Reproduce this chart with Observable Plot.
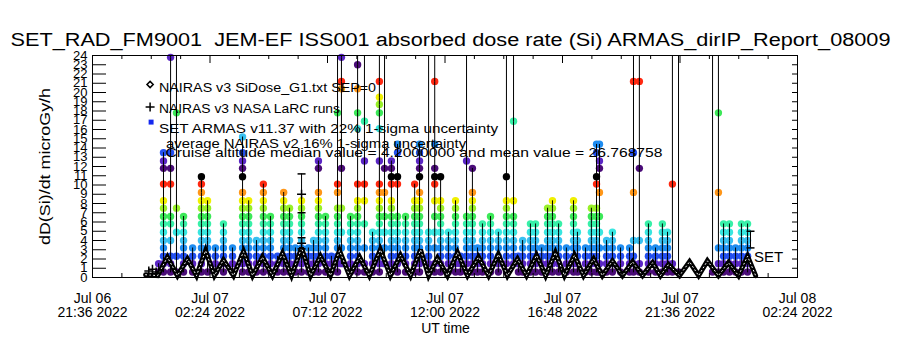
<!DOCTYPE html>
<html><head><meta charset="utf-8">
<script src="https://cdn.jsdelivr.net/npm/d3@7"></script>
<script src="https://cdn.jsdelivr.net/npm/@observablehq/plot@0.6"></script>
<style>html,body{margin:0;padding:0;background:#fff}</style>
</head><body><div id="chart"></div>
<script>
// ---------- DATA (hours UT since 2022-07-07 00:00) ----------
const titleText = "SET_RAD_FM9001  JEM-EF ISS001 absorbed dose rate (Si) ARMAS_dirIP_Report_08009";
const yLabelText = "dD(Si)/dt microGy/h";
const xLabelText = "UT time";
const tickHours = [-2.4, 2.4, 7.2, 12.0, 16.8, 21.6, 26.4];
const tickLabels = ["Jul 06\n21:36 2022","Jul 07\n02:24 2022","Jul 07\n07:12 2022","Jul 07\n12:00 2022","Jul 07\n16:48 2022","Jul 07\n21:36 2022","Jul 08\n02:24 2022"];
const yTickValues = [0,1,2,3,4,5,6,7,8,9,10,11,12,13,14,15,16,17,18,19,20,21,22,23,24];
const legendLines = [
  "NAIRAS v3 SiDose_G1.txt SEP=0",
  "NAIRAS v3 NASA LaRC runs",
  "SET ARMAS v11.37 with 22% 1-sigma uncertainty",
  "average NAIRAS v2 16% 1-sigma uncertainty",
  "Cruise altitude median value = 4.2000000 and mean value = 26.768758"
];
// quantized SET dose-rate levels and their colour cycle
const setLevels = [0.6,1.5,2.3,3.2,4.0,4.9,5.8,6.6,7.5,8.3,9.2,10.1,10.9,11.8,12.6,13.5,14.4,15.2,16.1,16.9,17.8,18.7,19.5,20.4,21.2,22.1,23.0,23.8];
const levelPalette = ["#4a0c78","#5a26c4","#2450f0","#1e8cf0","#38c0f0","#38e6e0","#38f0a8","#3ce858","#98f028","#f0f000","#ff9618","#ff2810","#000000"];

// SET ARMAS samples: column times and the values sampled in each column (60 = off scale)
const setHours = [0.30,0.50,0.79,1.03,1.32,1.69,2.05,2.30,2.62,2.95,3.32,3.73,3.98,4.30,4.58,4.87,5.16,5.41,5.65,5.89,
  6.14,6.42,6.63,6.83,7.12,7.36,7.61,7.77,8.14,8.43,8.71,9.04,9.32,9.53,9.81,10.06,10.39,10.76,10.96,11.33,
  11.58,11.82,12.14,12.43,12.63,12.88,13.12,13.33,13.53,13.86,14.18,14.51,14.80,15.00,15.17,15.49,15.70,15.95,16.19,16.39,
  16.64,16.96,17.25,17.41,17.74,17.98,18.19,18.31,18.60,18.84,19.17,19.54,19.70,19.94,20.31,20.60,20.88,21.09,21.29,21.54,
  22.93,23.17,23.38,23.62,23.87,24.11,24.36];
const setValues = [
  [0.6,1.5],
  [0.6,1.5,2.3,3.2,4.0,4.9,5.8,6.6,7.5,8.3,10.1,11.8,12.6,13.5],
  [0.6,1.5,2.3,4.0,5.8,6.6,10.1,11.8,13.5,23.8,60],
  [60,17.8,7.5,4.9,2.3,0.6],
  [0.6,1.5,2.3,3.2,4.0,4.9,5.8,6.6],
  [0.6,1.5,2.3,3.2],
  [0.6,1.5,2.3,3.2,4.0,4.9,5.8,6.6,7.5,8.3,9.2,10.1,10.9],
  [0.6,2.3,3.2,4.0,4.9,5.8,6.6,7.5,8.3],
  [0.6,1.5,2.3,3.2],
  [0.6,1.5,2.3,3.2,4.0,4.9,5.8],
  [0.6,1.5,2.3,3.2],
  [0.6,1.5,2.3,3.2,4.0,4.9,5.8,6.6,7.5,8.3,9.2,10.9,11.8,12.6,13.5,15.2],
  [0.6,1.5,2.3,3.2,4.0,4.9,5.8,6.6,7.5,8.3],
  [0.6,1.5,2.3,3.2,4.0],
  [0.6,1.5,2.3,3.2,4.0,4.9,5.8,6.6,7.5,8.3,9.2,10.1],
  [0.6,1.5,2.3,3.2,4.0,4.9,5.8,6.6],
  [0.6,1.5,2.3],
  [0.6,1.5,2.3,3.2,4.0,4.9,5.8,6.6,7.5,8.3,9.2],
  [0.6,1.5,2.3,3.2,4.0,4.9,5.8,6.6,7.5],
  [0.6,1.5,2.3,3.2],
  [0.6,1.5,2.3,3.2,4.0,4.9,5.8,6.6,7.5,8.3],
  [0.6,1.5,2.3,3.2],
  [0.6,1.5,2.3,3.2,4.0],
  [0.6,1.5,2.3,3.2,4.0,4.9,5.8,6.6,7.5,8.3,9.2,11.8,12.6],
  [0.6,1.5,2.3,3.2,4.0,4.9,5.8,6.6],
  [0.6,1.5,2.3],
  [0.6,1.5,2.3,3.2,4.0,4.9,5.8,6.6,7.5,9.2,10.1,17.8,60],
  [60,23.8,21.2,20.4,11.8,7.5,4.9,3.2,1.5],
  [0.6,1.5,2.3,3.2,4.0,4.9,5.8,6.6],
  [0.6,1.5,2.3,3.2,4.0,4.9,5.8,6.6,7.5,8.3,10.1,16.1,17.8,20.4,23.0,60],
  [60,16.9,12.6,10.1,8.3,5.8,3.2,1.5,0.6],
  [0.6,1.5,2.3,3.2,4.0,4.9],
  [0.6,1.5,2.3,3.2,4.0,4.9,5.8,6.6,7.5,8.3,9.2,10.1,12.6,16.1,17.8,18.7,19.5,21.2,60],
  [60,11.8,9.2,6.6,4.9,3.2,1.5],
  [0.6,1.5,2.3,3.2,4.0,4.9,5.8,6.6,7.5,8.3,10.1,10.9,11.8,12.6],
  [0.6,1.5,2.3,3.2,4.0,4.9,5.8,6.6,10.1,10.9,13.5,14.4],
  [0.6,1.5,2.3,3.2,4.0,4.9,5.8,6.6],
  [0.6,1.5,2.3,3.2,4.0,4.9,5.8,6.6,7.5,8.3,10.1],
  [0.6,1.5,2.3,3.2,4.0,4.9,5.8,6.6,7.5,8.3,9.2,10.9,11.8,12.6,13.5,14.4],
  [0.6,1.5,2.3,3.2,4.0,4.9,60],
  [60,21.2,14.4,11.8,10.9,10.1,8.3,6.6,4.9,3.2,1.5,0.6],
  [0.6,1.5,2.3,3.2,4.0,4.9,5.8,6.6,7.5,8.3,10.9],
  [0.6,1.5,2.3,3.2,4.0,4.9],
  [0.6,1.5,2.3,3.2,4.0,4.9,5.8,6.6,7.5,8.3],
  [0.6,1.5,2.3],
  [0.6,1.5,2.3,3.2,4.0,4.9,5.8,6.6,12.6,60],
  [0.6,1.5,2.3,3.2,4.0,4.9,5.8,6.6,7.5,8.3,9.2,11.8],
  [0.6,1.5,2.3,3.2],
  [0.6,1.5,2.3,3.2,4.0,4.9,5.8],
  [0.6,1.5,2.3,3.2,4.0,4.9,5.8,6.6],
  [0.6,1.5,2.3,3.2,4.0,4.9],
  [0.6,1.5,2.3,3.2,4.0,4.9,5.8,6.6,7.5,8.3,10.9,60],
  [60,16.9,8.3,6.6,5.8,4.9,4.0,3.2,2.3,1.5],
  [0.6,1.5,2.3],
  [0.6,1.5,2.3,3.2,4.0],
  [0.6,1.5,2.3,3.2,4.0,4.9,5.8],
  [0.6,1.5,2.3,3.2,4.0,4.9,5.8],
  [0.6,1.5,2.3,3.2],
  [0.6,1.5,2.3,3.2,4.0,4.9,5.8,6.6,7.5],
  [0.6,1.5,2.3,3.2,4.0,4.9,5.8,6.6,7.5,8.3],
  [0.6,1.5,2.3,3.2,4.0,4.9,5.8],
  [0.6,1.5,2.3,3.2],
  [0.6,1.5,2.3,3.2,4.0,4.9,5.8,6.6,7.5,8.3],
  [0.6,1.5,2.3,3.2,4.0,4.9],
  [0.6,1.5,2.3,3.2],
  [0.6,1.5,2.3,3.2,4.0,4.9,5.8,6.6,7.5],
  [0.6,1.5,2.3,3.2,4.0,4.9,5.8,6.6,7.5,10.1,10.9,13.5,14.4],
  [14.4,12.6,11.8,9.2,6.6,4.9,3.2,1.5,0.6],
  [0.6,1.5,2.3,3.2,4.0],
  [0.6,1.5,2.3,3.2,4.0,4.9],
  [0.6,1.5,2.3,3.2],
  [0.6,1.5,2.3,3.2],
  [0.6,1.5,2.3,4.0,9.2,13.5,21.2,60],
  [60,21.2,11.8,4.0,1.5,0.6],
  [0.6,1.5,2.3,3.2,4.0,4.9,5.8],
  [0.6,1.5,2.3,3.2],
  [0.6,1.5,2.3,3.2,4.0,4.9,5.8],
  [0.6,1.5,2.3,3.2,4.0,4.9],
  [0.6,1.5,10.1,60],
  [60,0.6],
  [0.6,60],
  [60,17.8,9.2,3.2,1.5,0.6],
  [0.6,1.5,2.3,3.2,4.0,4.9,5.8],
  [0.6,1.5,2.3,3.2,4.0,4.9,5.8],
  [0.6,1.5,2.3,3.2],
  [0.6,1.5,2.3,3.2,4.0,4.9,5.8],
  [0.6,1.5,2.3,3.2,4.0,4.9,5.8]
];

// NAIRAS v3 SiDose (orbital humps)
const nairasHours = [-0.23,0.26,0.66,1.07,1.48,1.85,2.22,2.58,2.95,3.36,3.77,4.14,4.54,4.95,5.36,5.73,6.14,6.51,6.91,7.32,
  7.69,8.10,8.51,8.91,9.36,9.77,10.18,10.59,11.00,11.33,11.69,12.10,12.51,12.92,13.37,13.78,14.18,14.55,14.96,15.33,
  15.74,16.11,16.51,16.88,17.29,17.66,18.07,18.43,18.84,19.25,19.66,20.07,20.48,20.80,21.13,21.58,21.99,22.36,22.72,23.17,
  23.58,23.99,24.36,24.69];
const nairasValues = [0.3,0.2,2.2,0.2,2.0,0.2,2.9,0.2,1.9,0.2,2.8,0.2,2.2,0.2,2.6,0.2,3.2,0.2,2.3,0.2,
  2.9,0.2,2.2,0.2,3.0,0.2,2.4,0.2,3.0,0.2,2.1,0.2,2.7,0.2,2.2,0.2,2.5,0.2,2.0,0.2,
  2.4,0.2,2.7,0.2,2.4,0.2,2.0,0.2,1.8,0.2,1.7,0.2,1.6,0.2,1.4,0.2,1.7,0.2,1.8,0.2,
  1.6,0.2,2.3,0.2];

// NAIRAS v3 NASA LaRC runs
const larcHours = [-0.10, 0.05, 0.20, 6.14, 6.14];
const larcValues = [0.7, 0.9, 0.6, 9.0, 3.7];

// uncertainty bars
const errHours = [6.14, 6.14, 24.48];
const errLow = [7.0, 3.1, 3.2];
const errHigh = [11.2, 4.3, 5.0];
const setLabelHours = [24.62];
const setLabelValues = [2.2];

// ---------- BUILD ----------
const W = 900, H = 350, mL = 92, mR = 103, mT = 55, mB = 73;
const fw = W - mL - mR, fh = H - mT - mB;
const base = Date.UTC(2022, 6, 7);
const T = h => new Date(base + h * 3600000);

const setPts = [];
setHours.forEach((h, i) => setValues[i].forEach(v => setPts.push({t: T(h), v, col: i})));
const nairas = nairasHours.map((h, i) => ({t: T(h), v: nairasValues[i]}));
const larc = larcHours.map((h, i) => ({t: T(h), v: larcValues[i]}));
const errs = errHours.map((h, i) => ({t: T(h), lo: errLow[i], hi: errHigh[i]}));
const caps = errs.flatMap(d => [{t: d.t, v: d.lo}, {t: d.t, v: d.hi}]);
const setLab = setLabelHours.map((h, i) => ({t: T(h), v: setLabelValues[i], text: "SET"}));

const thresholds = d3.pairs(setLevels).map(([a, b]) => (a + b) / 2);
const colorRange = setLevels.map((_, k) => levelPalette[k % levelPalette.length]);

const majorDates = tickHours.map(T);
const minorDates = d3.pairs(tickHours).flatMap(([a, b]) => [1, 2, 3].map(j => T(a + (b - a) * j / 4)));
const labelFor = new Map(majorDates.map((d, i) => [+d, tickLabels[i]]));

const hbar = {draw(ctx, size) { const w = Math.sqrt(size / Math.PI); ctx.moveTo(-w, 0); ctx.lineTo(w, 0); }};

const FONT = "'Liberation Sans', Arial, sans-serif";

const chart = Plot.plot({
  width: W, height: H,
  marginLeft: mL, marginRight: mR, marginTop: mT, marginBottom: mB,
  style: {fontFamily: FONT, fontSize: "13px", background: "white", color: "black"},
  x: {type: "utc", domain: [majorDates[0], majorDates[majorDates.length - 1]]},
  y: {domain: [0, 24]},
  color: {type: "threshold", domain: thresholds, range: colorRange},
  marks: [
    Plot.dot(setPts, {filter: d => d.v <= 24, x: "t", y: "v", fill: "v", r: 3.7}),
    Plot.line(setPts, {x: "t", y: "v", z: "col", stroke: "black", strokeWidth: 1, clip: true}),
    Plot.line(nairas, {x: "t", y: "v", stroke: "black", strokeWidth: 5, strokeLinejoin: "miter", strokeMiterlimit: 3}),
    Plot.line(nairas, {x: "t", y: "v", stroke: "white", strokeWidth: 1, strokeDasharray: "1,3"}),
    Plot.ruleX(errs, {x: "t", y1: "lo", y2: "hi", stroke: "black"}),
    Plot.dot(caps, {x: "t", y: "v", symbol: hbar, r: 4, stroke: "black", fill: "none"}),
    Plot.dot(larc, {x: "t", y: "v", symbol: "plus", r: 3, stroke: "black", strokeWidth: 1.5}),
    Plot.text(setLab, {x: "t", y: "v", text: "text", textAnchor: "start", fontSize: 15}),
    Plot.frame({stroke: "black"}),
    // IDL-style inward ticks
    Plot.ruleY(yTickValues, {insetRight: fw - 14, stroke: "black"}),
    Plot.ruleY(yTickValues, {insetLeft: fw - 5, stroke: "black"}),
    Plot.ruleX(majorDates, {insetTop: fh - 8, stroke: "black"}),
    Plot.ruleX(minorDates, {insetTop: fh - 4, stroke: "black"}),
    Plot.ruleX(majorDates, {insetBottom: fh - 8, stroke: "black"}),
    Plot.ruleX(minorDates, {insetBottom: fh - 4, stroke: "black"}),
    Plot.axisY({ticks: yTickValues, tickSize: 0, tickPadding: 5, fontSize: 13, label: null, tickFormat: d => String(d)}),
    Plot.axisX({ticks: majorDates, tickSize: 0, tickPadding: 16, fontSize: 14, lineHeight: 1.0, label: null, tickFormat: d => labelFor.get(+d)}),
    // legend
    Plot.dot([0], {frameAnchor: "top-left", dx: 57.6, dy: 29, symbol: "diamond2", r: 2.8, stroke: "black", strokeWidth: 1.5}),
    Plot.dot([0], {frameAnchor: "top-left", dx: 57.6, dy: 51.5, symbol: "plus", r: 3, stroke: "black", strokeWidth: 1.5}),
    Plot.dot([0], {frameAnchor: "top-left", dx: 58.6, dy: 66.6, symbol: "square", r: 2.8, fill: "#1428f0"}),
    Plot.text([legendLines[0]], {text: d => d, frameAnchor: "top-left", dx: 66.5, dy: 26.7, textAnchor: "start", fontSize: 13.5}),
    Plot.text([legendLines[1]], {text: d => d, frameAnchor: "top-left", dx: 66.5, dy: 47.7, textAnchor: "start", fontSize: 13.5}),
    Plot.text([legendLines[2]], {text: d => d, frameAnchor: "top-left", dx: 66.5, dy: 67.7, textAnchor: "start", fontSize: 13.5}),
    Plot.text([legendLines[3]], {text: d => d, frameAnchor: "top-left", dx: 73.6, dy: 82.6, textAnchor: "start", fontSize: 13.5}),
    Plot.text([legendLines[4]], {text: d => d, frameAnchor: "top-left", dx: 73, dy: 92, textAnchor: "start", fontSize: 13.5}),
    // titles
    Plot.text([titleText], {text: d => d, frameAnchor: "top", textAnchor: "middle", dx: 5.5, dy: -22, fontSize: 18}),
    Plot.text([yLabelText], {text: d => d, frameAnchor: "left", textAnchor: "middle", dx: -47, rotate: -90, fontSize: 15.5}),
    Plot.text([xLabelText], {text: d => d, frameAnchor: "bottom", textAnchor: "middle", dx: 0.5, dy: 55, fontSize: 14})
  ]
});

// fit text widths to the reference's vector-font lengths
const fitWidths = new Map([
  [titleText, 880], [yLabelText, 157],
  [legendLines[0], 217], [legendLines[1], 181], [legendLines[2], 339], [legendLines[3], 300], [legendLines[4], 497]
]);
chart.querySelectorAll("text").forEach(t => {
  const w = fitWidths.get(t.textContent);
  if (w) { t.setAttribute("textLength", w); t.setAttribute("lengthAdjust", "spacingAndGlyphs"); }
});
document.getElementById("chart").appendChild(chart);
</script>
</body></html>
